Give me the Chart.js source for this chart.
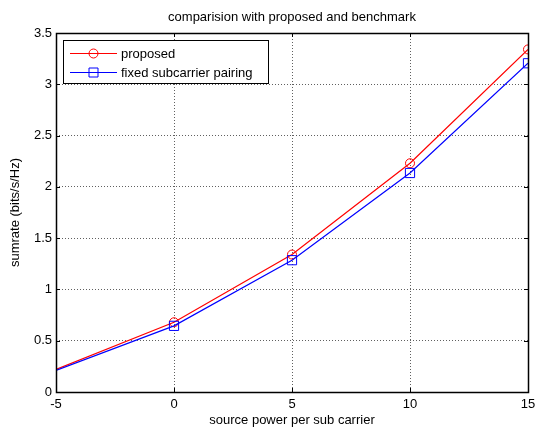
<!DOCTYPE html>
<html>
<head>
<meta charset="utf-8">
<script src="https://cdn.jsdelivr.net/npm/chart.js@4.4.0/dist/chart.umd.min.js"></script>
<style>
  html, body { margin: 0; padding: 0; background: #fff; }
  #wrap { width: 536px; height: 428px; }
</style>
</head>
<body>
<div id="wrap"><canvas id="grafico" width="536" height="428"></canvas></div>
<script>
// Datos
const potencias = [-5, 0, 5, 10, 15];
const propuesto = [0.22, 0.68, 1.34, 2.23, 3.34];
const fijo = [0.21, 0.645, 1.285, 2.135, 3.205];
const ticksX = [-5, 0, 5, 10, 15];
const ticksY = [0, 0.5, 1, 1.5, 2, 2.5, 3, 3.5];
const etiquetasY = ['0', '0.5', '1', '1.5', '2', '2.5', '3', '3.5'];

const TITULO = 'comparision with proposed and benchmark';
const NOMBRES = ['proposed', 'fixed subcarrier pairing'];
const FUENTE = '13px "Liberation Sans", Arial, sans-serif';

// Marco, marcas interiores, titulo y leyenda al estilo MATLAB
const marcoPlugin = {
    id: 'marco',
    afterDraw(chart) {
        const ctx = chart.ctx;
        const a = chart.chartArea;
        const sx = chart.scales.x, sy = chart.scales.y;
        ctx.save();
        ctx.strokeStyle = '#000';
        ctx.lineWidth = 1;
        // marcas hacia adentro
        ctx.beginPath();
        ticksX.forEach(v => {
            const px = Math.round(sx.getPixelForValue(v)) + 0.5;
            ctx.moveTo(px, a.bottom); ctx.lineTo(px, a.bottom - 4);
            ctx.moveTo(px, a.top); ctx.lineTo(px, a.top + 4);
        });
        ticksY.forEach(v => {
            const py = Math.round(sy.getPixelForValue(v)) + 0.5;
            ctx.moveTo(a.left, py); ctx.lineTo(a.left + 4, py);
            ctx.moveTo(a.right, py); ctx.lineTo(a.right - 4, py);
        });
        ctx.stroke();
        // caja
        ctx.lineWidth = 1.5;
        ctx.strokeRect(Math.round(a.left) + 0.5, Math.round(a.top) + 0.5,
            Math.round(a.right - a.left), Math.round(a.bottom - a.top));

        // titulo
        ctx.fillStyle = '#000';
        ctx.font = FUENTE;
        ctx.textAlign = 'center';
        ctx.textBaseline = 'middle';
        ctx.fillText(TITULO, (a.left + a.right) / 2, 17);

        // leyenda
        const lx = 63, ly = 40, lw = 205, lh = 43;
        ctx.fillStyle = '#fff';
        ctx.fillRect(lx, ly, lw, lh);
        ctx.lineWidth = 1;
        ctx.strokeStyle = '#000';
        ctx.strokeRect(lx + 0.5, ly + 0.5, lw, lh);
        const filas = [53, 72];
        const colores = ['#ff0000', '#0000ff'];
        filas.forEach((fy, i) => {
            ctx.strokeStyle = colores[i];
            ctx.beginPath();
            ctx.moveTo(70, fy + 0.5); ctx.lineTo(117, fy + 0.5);
            ctx.stroke();
            ctx.beginPath();
            if (i === 0) {
                ctx.arc(93.5, fy + 0.5, 4.5, 0, Math.PI * 2);
            } else {
                ctx.rect(89, fy - 4, 9, 9);
            }
            ctx.stroke();
            ctx.fillStyle = '#000';
            ctx.textAlign = 'left';
            ctx.fillText(NOMBRES[i], 121, fy + 1);
        });
        ctx.restore();
    }
};

const grafico = new Chart(document.getElementById('grafico'), {
    type: 'line',
    data: {
        datasets: [{
            label: NOMBRES[0],
            data: potencias.map((x, i) => ({ x: x, y: propuesto[i] })),
            borderColor: '#ff0000',
            backgroundColor: 'rgba(0,0,0,0)',
            borderWidth: 1.2,
            pointStyle: 'circle',
            pointRadius: [0, 4.5, 4.5, 4.5, 4.5],
            pointBorderWidth: 1,
            pointBorderColor: '#ff0000',
            pointBackgroundColor: 'rgba(0,0,0,0)',
            tension: 0,
            order: 2
        }, {
            label: NOMBRES[1],
            data: potencias.map((x, i) => ({ x: x, y: fijo[i] })),
            borderColor: '#0000ff',
            backgroundColor: 'rgba(0,0,0,0)',
            borderWidth: 1.2,
            pointStyle: 'rect',
            pointRadius: [0, 6.5, 6.5, 6.5, 6.5],
            pointBorderWidth: 1,
            pointBorderColor: '#0000ff',
            pointBackgroundColor: 'rgba(0,0,0,0)',
            tension: 0,
            order: 1
        }]
    },
    options: {
        responsive: false,
        animation: false,
        events: [],
        layout: { padding: { top: 33, right: 8, left: 0, bottom: 0 } },
        plugins: {
            legend: { display: false },
            title: { display: false },
            tooltip: { enabled: false }
        },
        scales: {
            x: {
                type: 'linear',
                min: -5,
                max: 15,
                afterBuildTicks: s => { s.ticks = ticksX.map(v => ({ value: v })); },
                afterFit: s => { s.height = 36; s.paddingLeft = 0; s.paddingRight = 0; },
                ticks: {
                    color: '#000',
                    font: { family: '"Liberation Sans", Arial, sans-serif', size: 13 },
                    padding: 5,
                    maxRotation: 0
                },
                grid: {
                    color: '#606060',
                    lineWidth: 1,
                    drawTicks: false
                },
                border: { display: false, dash: [1, 2] },
                title: {
                    display: true,
                    text: 'source power per sub carrier',
                    color: '#000',
                    font: { family: '"Liberation Sans", Arial, sans-serif', size: 13 },
                    padding: { top: 0, bottom: 0 }
                }
            },
            y: {
                type: 'linear',
                min: 0,
                max: 3.5,
                afterBuildTicks: s => { s.ticks = ticksY.map(v => ({ value: v })); },
                afterFit: s => { s.width = 56; s.paddingTop = 0; s.paddingBottom = 0; },
                ticks: {
                    color: '#000',
                    font: { family: '"Liberation Sans", Arial, sans-serif', size: 13 },
                    padding: 4,
                    callback: function (v) { return etiquetasY[ticksY.indexOf(v)]; }
                },
                grid: {
                    color: '#606060',
                    lineWidth: 1,
                    drawTicks: false
                },
                border: { display: false, dash: [1, 2] },
                title: {
                    display: true,
                    text: 'sumrate (bits/s/Hz)',
                    color: '#000',
                    font: { family: '"Liberation Sans", Arial, sans-serif', size: 13 },
                    padding: { top: 8, bottom: 0 }
                }
            }
        }
    },
    plugins: [marcoPlugin]
});
</script>
</body>
</html>
